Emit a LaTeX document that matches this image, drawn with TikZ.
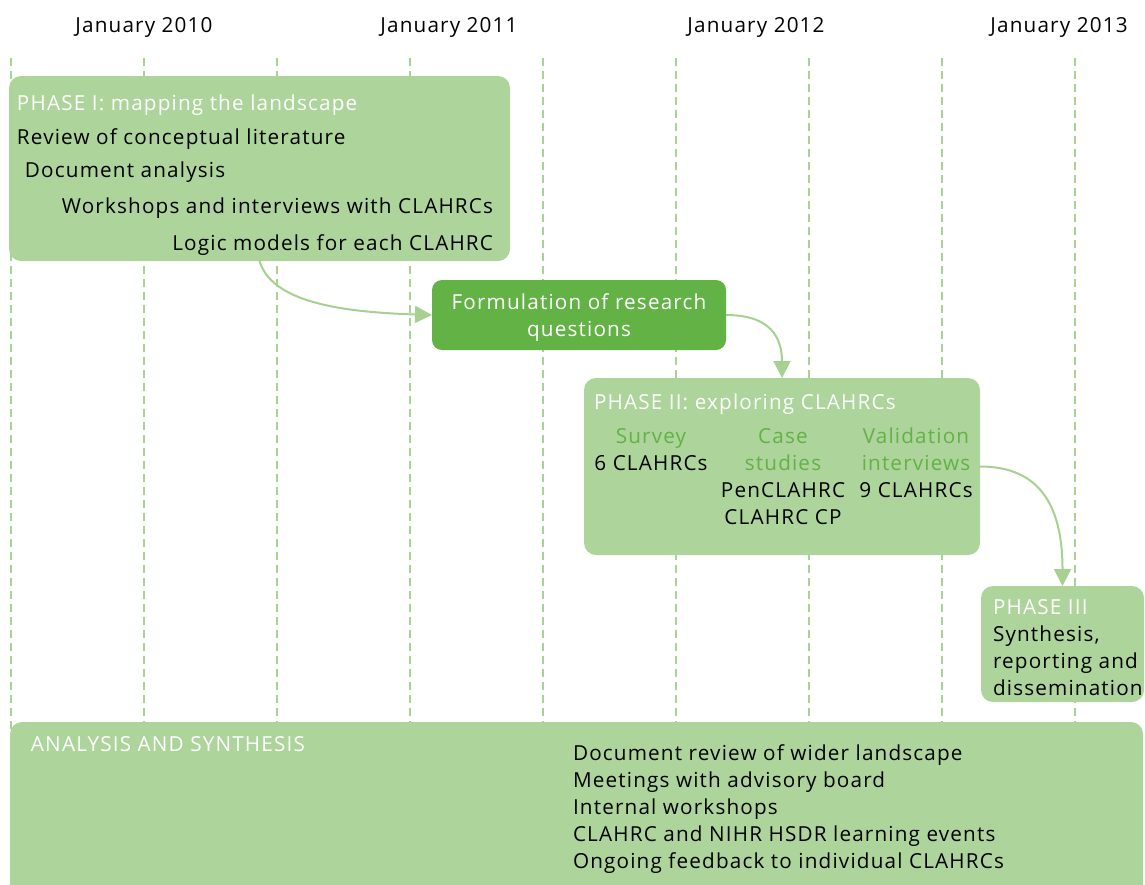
\documentclass[tikz,border=0pt]{standalone}
\usepackage{fontspec}
\setmainfont[LetterSpace=5.6]{Open Sans}
\usetikzlibrary{arrows.meta}
\definecolor{panelgreen}{HTML}{ADD49B}
\definecolor{darkgreen}{HTML}{63B246}
\definecolor{gridgreen}{HTML}{A9D293}
\definecolor{arrowgreen}{HTML}{A6D191}
\begin{document}
\begin{tikzpicture}[x=0.5pt,y=-0.5pt,
  txt/.style={inner sep=0pt, outer sep=0pt, font=\fontsize{10.35}{12}\selectfont},
  title/.style={txt, text=white},
  sub/.style={txt, text=darkgreen},
  panel/.style={fill=panelgreen, rounded corners=6pt, inner sep=0pt, outer sep=0pt, anchor=north west},
  gridline/.style={gridgreen, line width=0.8pt, dash pattern=on 4pt off 2.5pt},
  flow/.style={arrowgreen, line width=1pt, -{Triangle[length=8.5pt,width=8.5pt]}},
]
\useasboundingbox (0,0) rectangle (1145,884);

% time grid
\foreach \i in {0,...,8}
  \draw[gridline] (11+133*\i,58) -- (11+133*\i,884);

% year headings
\node[txt, anchor=base] (y2010) at (144,32) {January 2010};
\node[txt, anchor=base] (y2011) at (449,32) {January 2011};
\node[txt, anchor=base] (y2012) at (756,32) {January 2012};
\node[txt, anchor=base] (y2013) at (1059,32) {January 2013};

% panels
\node[panel, minimum width=250.5pt, minimum height=92.5pt] (p1) at (9,76) {};
\node[panel, fill=darkgreen, rounded corners=5pt, minimum width=147pt, minimum height=35pt] (fq) at (432,280) {};
\node[panel, minimum width=198pt, minimum height=88.5pt] (p2) at (584,378) {};
\node[panel, minimum width=81.5pt, minimum height=58pt] (p3) at (981,586) {};
\node[panel, minimum width=566.5pt, minimum height=100pt] (pa) at (10,722) {};

% phase I
\node[title, anchor=base west] (p1t) at (17,110) {PHASE I: mapping the landscape};
\node[txt, anchor=base west] (p1a) at (17,144) {Review of conceptual literature};
\node[txt, anchor=base west] (p1b) at (25,177) {Document analysis};
\node[txt, anchor=base east] (p1c) at (493,213) {Workshops and interviews with CLAHRCs};
\node[txt, anchor=base east] (p1d) at (493,250) {Logic models for each CLAHRC};

% research questions
\node[title, anchor=base] (fq1) at (579,309) {Formulation of research};
\node[title, anchor=base] (fq2) at (579,336) {questions};

% phase II
\node[title, anchor=base west] (p2t) at (594,409) {PHASE II: exploring CLAHRCs};
\node[sub, anchor=base] (s1) at (651,443) {Survey};
\node[txt, anchor=base] (s2) at (651,470) {6 CLAHRCs};
\node[sub, anchor=base] (c1) at (783,443) {Case};
\node[sub, anchor=base] (c2) at (783,470) {studies};
\node[txt, anchor=base] (c3) at (783,497) {PenCLAHRC};
\node[txt, anchor=base] (c4) at (783,524) {CLAHRC CP};
\node[sub, anchor=base] (v1) at (916,443) {Validation};
\node[sub, anchor=base] (v2) at (916,470) {interviews};
\node[txt, anchor=base] (v3) at (916,497) {9 CLAHRCs};

% phase III
\node[title, anchor=base west] (p3t) at (993,614) {PHASE III};
\node[txt, anchor=base west] (p3a) at (993,641) {Synthesis,};
\node[txt, anchor=base west] (p3b) at (993,668) {reporting and};
\node[txt, anchor=base west] (p3c) at (993,695) {dissemination};

% analysis and synthesis
\node[title, anchor=base west] (pat) at (31,751) {ANALYSIS AND SYNTHESIS};
\node[txt, anchor=base west] (pa1) at (573,760) {Document review of wider landscape};
\node[txt, anchor=base west] (pa2) at (573,787) {Meetings with advisory board};
\node[txt, anchor=base west] (pa3) at (573,814) {Internal workshops};
\node[txt, anchor=base west] (pa4) at (573,841) {CLAHRC and NIHR HSDR learning events};
\node[txt, anchor=base west] (pa5) at (573,868) {Ongoing feedback to individual CLAHRCs};

% flow arrows
\draw[flow] (p1.south) .. controls +(12,40) and +(-95,-3) .. (fq.west);
\draw[flow] (fq.east) .. controls +(45,0) and +(0,-40) .. (p2.north);
\draw[flow] (p2.east) .. controls +(60,0) and +(0,-80) .. (p3.north);
\end{tikzpicture}
\end{document}
